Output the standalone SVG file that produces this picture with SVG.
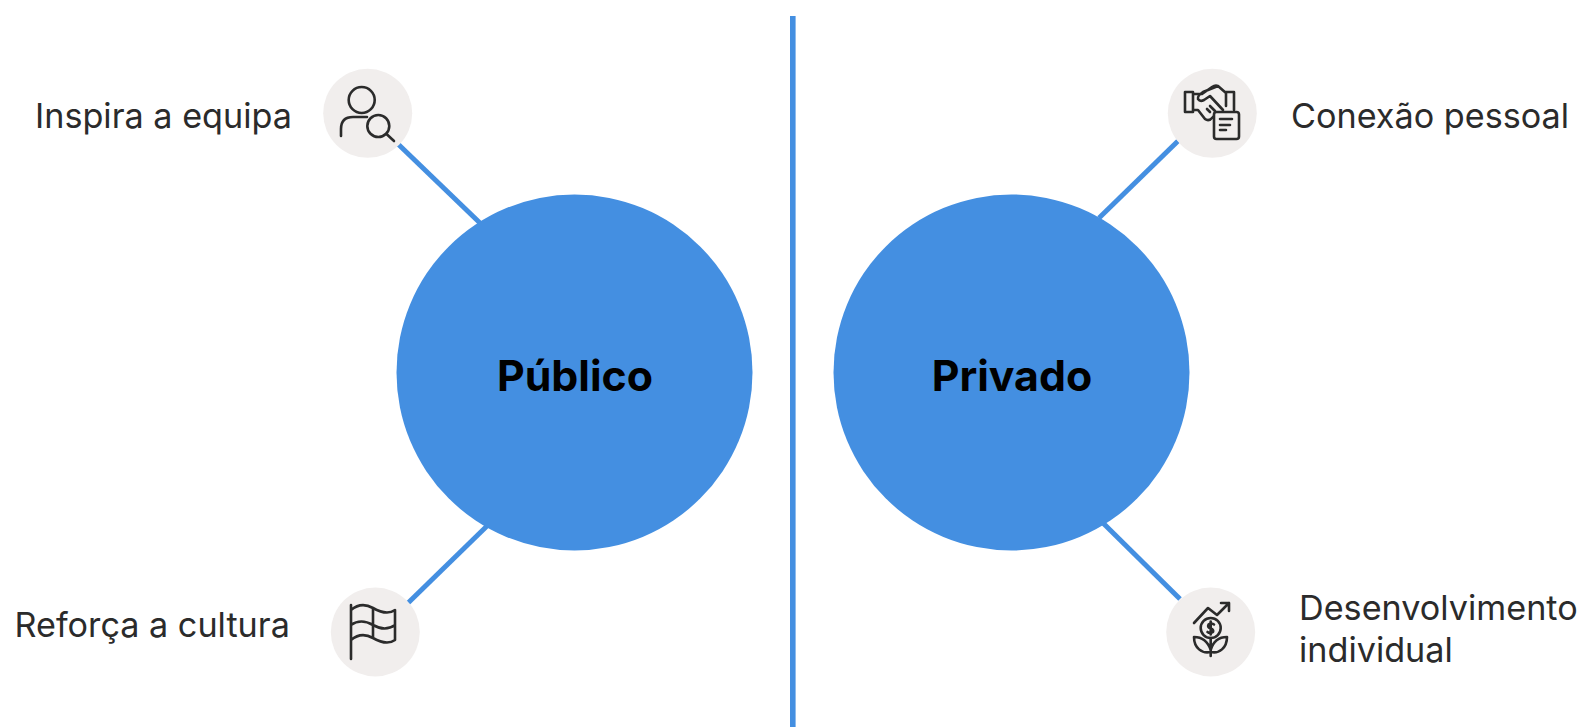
<svg xmlns="http://www.w3.org/2000/svg" width="1583" height="727" viewBox="0 0 1583 727">
<style>
text{font-family:Inter,"Liberation Sans",sans-serif;fill:#2b2b2b;font-size:34.2px}
.t{font-weight:700;font-size:42.8px;fill:#000;text-anchor:middle}
.big{fill:#448fe1}
.bg{fill:#f1eeed}
.c{stroke:#448fe1;stroke-width:5;fill:none}
.v{stroke-width:5.6}
.i{fill:none;stroke:#2b2b2b;stroke-width:2.6;stroke-linecap:round;stroke-linejoin:round}
</style>
<rect width="1583" height="727" fill="#fff"/>
<g id="connectors">
<line class="c v" x1="792.800" y1="16" x2="792.800" y2="727"/>
<line class="c" x1="398" y1="144" x2="480" y2="223"/>
<line class="c" x1="408" y1="603" x2="487" y2="526"/>
<line class="c" x1="1178" y1="141" x2="1099" y2="218"/>
<line class="c" x1="1180" y1="599" x2="1103" y2="523"/>
</g>
<g id="publico"><circle class="big" cx="574.500" cy="372.500" r="178"/><text class="t" x="575" y="391">Público</text></g>
<g id="privado"><circle class="big" cx="1011.500" cy="372.500" r="178"/><text class="t" x="1012" y="391">Privado</text></g>
<g id="inspira">
<circle class="bg" cx="367.700" cy="113.300" r="44.500"/>
<circle class="i" cx="361.700" cy="100" r="13"/>
<path class="i" d="M341 136V129Q341 117 353 117H367"/>
<circle class="i" cx="378.300" cy="126" r="11"/>
<line class="i" x1="386.500" y1="134" x2="394" y2="141"/>
<text x="35" y="128">Inspira a equipa</text>
</g>
<g id="conexao">
<circle class="bg" cx="1212.300" cy="113.300" r="44.500"/>
<path class="i" d="M1185 92H1193V112H1185ZM1226 92H1234V110M1226 92V106M1193 94H1202L1212 87Q1215 85 1218 86L1226 93M1218 86L1203 92Q1197 96 1198 99Q1200 102 1204 100L1210 96L1223 110M1193 110H1198L1205 119Q1209 122 1213 117M1207 109L1210 112M1210 106L1215 111"/>
<rect class="i" x="1214" y="112" width="25" height="27" rx="2.500"/>
<path class="i" d="M1220 119H1232M1220 125H1230M1220 130H1226"/>
<text x="1291" y="128">Conexão pessoal</text>
</g>
<g id="reforca">
<circle class="bg" cx="375.300" cy="632" r="44.500"/>
<path class="i" d="M351 605V659M351 610C358 604 366 604 373 608S388 615 395 610V640C388 645 380 642 373 638S358 634 351 640M351 625C358 620 366 621 373 625S388 630 395 625M373 608V638"/>
<text x="14.500" y="637">Reforça a cultura</text>
</g>
<g id="desenvolvimento">
<circle class="bg" cx="1210.700" cy="632" r="44.500"/>
<path class="i" d="M1194 623L1208 608L1217 615L1229 603M1221 603H1229V611"/>
<circle class="i" cx="1210.700" cy="628" r="10"/>
<path class="i" d="M1214 624.500Q1211 622.500 1208.500 624.500Q1207 627.500 1211 628.500Q1214 630 1213 632Q1210 634 1207.500 632M1210.700 621.500V634.500M1210.700 638V656M1210.700 650C1208 642 1203 637 1194 637C1194 648 1202 654 1210.700 652C1219 654 1227 648 1227 637C1218 637 1213 642 1210.700 650"/>
<text x="1299" y="620">Desenvolvimento</text>
<text x="1299" y="662">individual</text>
</g>
</svg>
